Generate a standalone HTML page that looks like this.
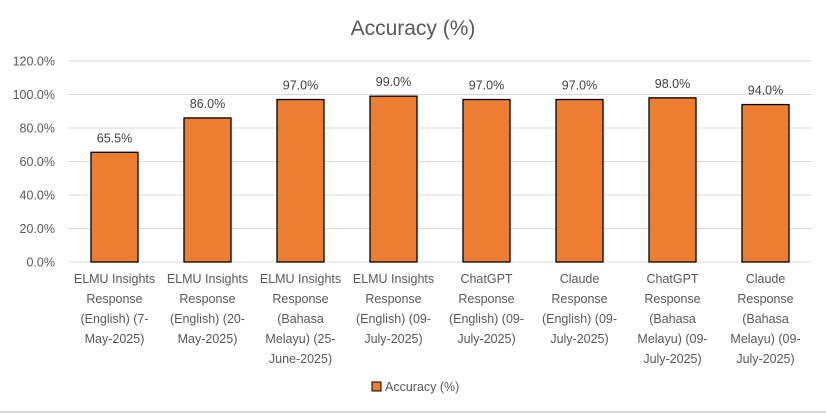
<!DOCTYPE html>
<html><head><meta charset="utf-8"><style>
body{margin:0;background:#fff;}
svg{display:block;font-family:"Liberation Sans",sans-serif;}
</style></head><body>
<svg id="chart" width="826" height="414" xmlns="http://www.w3.org/2000/svg">
<rect x="0" y="0" width="826" height="414" fill="#fff"/>
<line x1="0" y1="412" x2="826" y2="412" stroke="#d9d9d9" stroke-width="2"/>
<text x="413" y="35" text-anchor="middle" font-size="21" fill="#595959">Accuracy (%)</text>
<g id="grid"></g><g id="bars"></g><g id="labels"></g>
<rect x="372" y="382" width="9" height="9" fill="#ed7d31" stroke="#000" stroke-width="1"/>
<text x="385" y="391" font-size="12.5" fill="#595959">Accuracy (%)</text>
</svg>
<script>
const categories=[
["ELMU Insights","Response","(English) (7-","May-2025)"],
["ELMU Insights","Response","(English) (20-","May-2025)"],
["ELMU Insights","Response","(Bahasa","Melayu) (25-","June-2025)"],
["ELMU Insights","Response","(English) (09-","July-2025)"],
["ChatGPT","Response","(English) (09-","July-2025)"],
["Claude","Response","(English) (09-","July-2025)"],
["ChatGPT","Response","(Bahasa","Melayu) (09-","July-2025)"],
["Claude","Response","(Bahasa","Melayu) (09-","July-2025)"]];
const values=[65.5,86.0,97.0,99.0,97.0,97.0,98.0,94.0];
const valueLabels=["65.5%","86.0%","97.0%","99.0%","97.0%","97.0%","98.0%","94.0%"];
const ticks=[0,20,40,60,80,100,120];
const tickLabels=["0.0%","20.0%","40.0%","60.0%","80.0%","100.0%","120.0%"];
const NS="http://www.w3.org/2000/svg";
const x0=68,x1=812,yBase=262,yTop=61,maxV=120;
const y=v=>yBase-(v/maxV)*(yBase-yTop);
const step=(x1-x0)/categories.length;
const xc=i=>x0+step*(i+0.5);
const bw=47;
function mk(t,a,p){const e=document.createElementNS(NS,t);for(const k in a)e.setAttribute(k,a[k]);document.getElementById(p).appendChild(e);return e;}
ticks.forEach((t,i)=>{
 const l=mk('line',{x1:x0,x2:x1,y1:y(t),y2:y(t),stroke:'#d9d9d9','stroke-width':1},'grid');
 
 
 const tx=mk('text',{x:55,y:y(t)+4.5,'text-anchor':'end','font-size':12.5,fill:'#595959'},'grid');
 tx.textContent=tickLabels[i];
 
 
});
values.forEach((v,i)=>{
 const r=mk('rect',{x:xc(i)-bw/2,y:y(v),width:bw,height:yBase-y(v),fill:'#ed7d31',stroke:'#000','stroke-width':1.3},'bars');
 
 
 const t=mk('text',{x:xc(i),y:y(v)-10,'text-anchor':'middle','font-size':12.5,fill:'#404040'},'labels');
 t.textContent=valueLabels[i];
 
 
 categories[i].forEach((ln,j)=>{
  const c=mk('text',{x:xc(i),y:283+j*20,'text-anchor':'middle','font-size':12.5,fill:'#595959'},'labels');
  c.textContent=ln;
  
  
 });
});
</script>
</body></html>
